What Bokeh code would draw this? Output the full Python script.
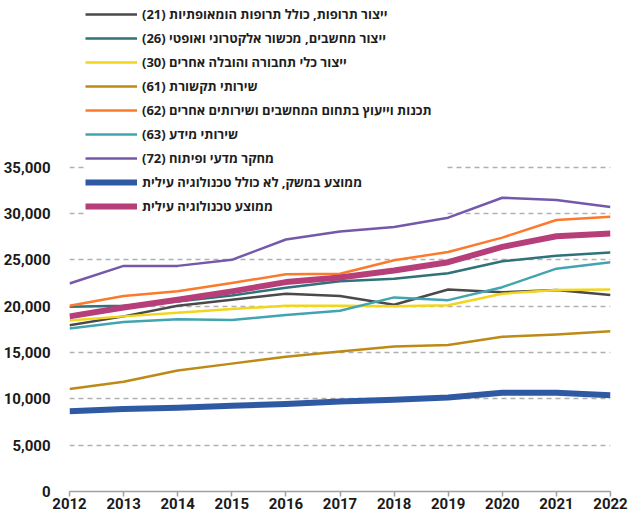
from bokeh.plotting import figure
from bokeh.models import (Legend, LegendItem, FixedTicker, NumeralTickFormatter, Range1d)
from bokeh.embed import file_html
from bokeh.resources import INLINE

RLM = "\u200f"

years = [2012, 2013, 2014, 2015, 2016, 2017, 2018, 2019, 2020, 2021, 2022]

pharma_21 = [17950, 18900, 20050, 20700, 21350, 21100, 20150, 21800, 21500, 21750, 21200]
computers_26 = [19950, 20050, 20500, 21150, 22000, 22700, 22950, 23550, 24850, 25450, 25800]
transport_30 = [18450, 18900, 19300, 19700, 20050, 20050, 20000, 20100, 21350, 21750, 21800]
telecom_61 = [11050, 11850, 13050, 13800, 14550, 15100, 15650, 15800, 16700, 16950, 17300]
programming_62 = [20050, 21100, 21600, 22500, 23450, 23500, 24950, 25850, 27400, 29300, 29650]
info_63 = [17600, 18300, 18600, 18500, 19050, 19500, 20950, 20650, 22050, 24050, 24750]
research_72 = [22450, 24350, 24350, 25000, 27200, 28050, 28550, 29550, 31700, 31450, 30700]
avg_non_hitech = [8650, 8900, 9050, 9250, 9450, 9700, 9900, 10150, 10650, 10650, 10400]
avg_hitech = [18900, 19850, 20700, 21600, 22600, 23100, 23850, 24750, 26400, 27550, 27850]

labels = [
    "ייצור תרופות, כולל תרופות הומאופתיות (21)" + RLM,
    "ייצור מחשבים, מכשור אלקטרוני ואופטי (26)" + RLM,
    "ייצור כלי תחבורה והובלה אחרים (30)" + RLM,
    "שירותי תקשורת (61)" + RLM,
    "תכנות וייעוץ בתחום המחשבים ושירותים אחרים (62)" + RLM,
    "שירותי מידע (63)" + RLM,
    "מחקר מדעי ופיתוח (72)" + RLM,
    "ממוצע במשק, לא כולל טכנולוגיה עילית",
    "ממוצע טכנולוגיה עילית",
]
series = [pharma_21, computers_26, transport_30, telecom_61, programming_62,
          info_63, research_72, avg_non_hitech, avg_hitech]
colors = ["#4a4a4a", "#2f7279", "#f2d51e", "#bd8a16", "#fb7a2c",
          "#43a4b1", "#7658ab", "#2f5aa3", "#b63f7a"]
widths = [2.5, 2.5, 2.5, 2.5, 2.5, 2.5, 2.5, 6, 6]

y_ticks = [0, 5000, 10000, 15000, 20000, 25000, 30000, 35000]
grid_ticks = [5000, 10000, 15000, 20000, 25000, 30000, 35000]

W, H = 630, 511
p = figure(width=W, height=H, output_backend="svg", toolbar_location=None,
           x_range=Range1d(2012, 2022), y_range=Range1d(0, 52990),
           min_border_left=69, min_border_right=20, min_border_top=0,
           min_border_bottom=10)
p.outline_line_color = None
p.background_fill_color = "white"
p.border_fill_color = "white"

items = []
for lab, ys, c, w in zip(labels, series, colors, widths):
    r = p.line(years, ys, line_color=c, line_width=w, line_join="round")
    items.append(LegendItem(label=lab, renderers=[r]))

# axes
p.xaxis.ticker = FixedTicker(ticks=years)
p.xaxis.axis_line_color = "#a0a0a0"
p.xaxis.axis_line_width = 1.5
p.xaxis.major_tick_line_color = "#a0a0a0"
p.xaxis.major_tick_line_width = 1.5
p.xaxis.major_tick_in = 0
p.xaxis.major_tick_out = 5
p.xaxis.minor_tick_line_color = None
p.xaxis.major_label_standoff = 1
p.xaxis.major_label_text_font = "Roboto"
p.xaxis.major_label_text_font_style = "bold"
p.xaxis.major_label_text_font_size = "15px"
p.xaxis.major_label_text_color = "#1a1a1a"

p.yaxis.ticker = FixedTicker(ticks=y_ticks)
p.yaxis.formatter = NumeralTickFormatter(format="0,0")
p.yaxis.axis_line_color = None
p.yaxis.major_tick_line_color = None
p.yaxis.minor_tick_line_color = None
p.yaxis.major_tick_in = 0
p.yaxis.major_tick_out = 0
p.yaxis.major_label_standoff = 19
p.yaxis.major_label_text_font = "Roboto"
p.yaxis.major_label_text_font_style = "bold"
p.yaxis.major_label_text_font_size = "15px"
p.yaxis.major_label_text_color = "#1a1a1a"

p.xgrid.grid_line_color = None
p.ygrid.ticker = FixedTicker(ticks=grid_ticks)
p.ygrid.grid_line_color = "#b0b0b0"
p.ygrid.grid_line_width = 1.5
p.ygrid.grid_line_dash = "5 4"

legend = Legend(items=items, location=(16, 276), orientation="vertical",
                padding=0, margin=0, spacing=6,
                glyph_width=52, glyph_height=16, label_height=16,
                label_standoff=5, label_width=305,
                label_text_font="Open Sans", label_text_font_size="13px",
                label_text_color="#1e1e1e", label_text_font_style="bold",
                border_line_color=None, background_fill_color="white",
                background_fill_alpha=1.0)
p.add_layout(legend, "center")

open("out.html", "w").write(file_html(p, INLINE))
